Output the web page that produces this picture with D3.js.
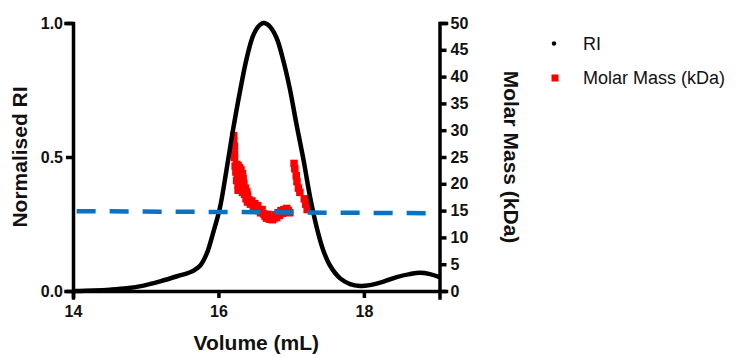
<!DOCTYPE html>
<html>
<head>
<meta charset="utf-8">
<script src="https://cdn.jsdelivr.net/npm/d3@7"></script>
<style>
  html, body { margin: 0; padding: 0; background: #fff; }
  svg { display: block; font-family: "Liberation Sans", Arial, sans-serif; }
</style>
</head>
<body>
<svg id="chart" width="743" height="358"></svg>
<script>
// ---- Data ----
const riVolume = [14.0, 14.28, 14.51, 14.74, 14.97, 15.2, 15.43, 15.65, 15.75, 15.84, 15.93, 16.02, 16.11, 16.2, 16.3, 16.39, 16.48, 16.57, 16.63, 16.71, 16.8, 16.89, 16.98, 17.07, 17.17, 17.26, 17.35, 17.44, 17.53, 17.67, 17.81, 17.95, 18.08, 18.27, 18.45, 18.63, 18.77, 18.91, 19.04];
const riValue  = [0.0, 0.002, 0.005, 0.01, 0.02, 0.036, 0.055, 0.075, 0.095, 0.14, 0.22, 0.31, 0.45, 0.6, 0.75, 0.87, 0.955, 0.993, 1.0, 0.986, 0.944, 0.862, 0.757, 0.627, 0.489, 0.351, 0.239, 0.153, 0.097, 0.048, 0.026, 0.019, 0.022, 0.035, 0.052, 0.063, 0.068, 0.063, 0.052];

const mmVolume = [16.21, 16.21, 16.22, 16.22, 16.22,
  16.23, 16.25, 16.27, 16.29, 16.24, 16.26, 16.28, 16.30, 16.25, 16.27, 16.29, 16.31, 16.27, 16.30, 16.33, 16.36,
  16.31, 16.33, 16.34, 16.35, 16.37, 16.39, 16.40,
  16.38, 16.40, 16.42, 16.44, 16.46, 16.48, 16.50, 16.52, 16.54, 16.56, 16.58, 16.60, 16.62,
  16.64, 16.66, 16.68, 16.70, 16.72, 16.74, 16.76, 16.78, 16.80, 16.82, 16.84, 16.86, 16.88, 16.90, 16.92, 16.94, 16.96, 16.98,
  17.04, 17.05, 17.07, 17.08, 17.10, 17.12, 17.18, 17.20, 17.22];
const mmValue  = [29.0, 28.0, 27.0, 25.6, 24.9,
  23.3, 23.6, 23.4, 23.0, 22.2, 21.6, 22.0, 21.8, 20.6, 19.8, 20.4, 20.8, 18.8, 19.2, 18.4, 18.0,
  22.6, 21.9, 21.0, 20.1, 19.2, 18.5, 17.9,
  17.2, 16.6, 17.0, 16.2, 16.8, 15.8, 16.3, 15.4, 15.9, 15.0, 14.6, 15.2, 14.4,
  14.0, 13.6, 14.3, 13.4, 13.8, 13.3, 13.5, 14.2, 13.7, 14.6, 14.1, 15.0, 14.5, 15.2, 14.8, 15.4, 15.0, 14.6,
  23.8, 22.8, 21.5, 20.4, 19.2, 18.4, 17.2, 16.2, 15.2];

const refVolume = [14.05, 19.0];
const refMass   = [14.9, 14.5];

const xTicks  = [14, 16, 18];
const yTicks  = [0, 0.5, 1.0];
const y2Ticks = [0, 5, 10, 15, 20, 25, 30, 35, 40, 45, 50];

const legendLabels = ["RI", "Molar Mass (kDa)"];

// ---- Layout ----
const svg = d3.select("#chart");
const pL = 73, pR = 439.5, pT = 23, pB = 291;

const x  = d3.scaleLinear().domain([14, 19.04]).range([pL, pR]);
const y  = d3.scaleLinear().domain([0, 1]).range([pB, pT]);
const y2 = d3.scaleLinear().domain([0, 50]).range([pB, pT]);

// Molar mass squares (underneath)
const sq = 7.5;
svg.append("g").selectAll("rect")
  .data(mmVolume.map((v, i) => [v, mmValue[i]]))
  .join("rect")
  .attr("x", d => x(d[0]) - sq / 2)
  .attr("y", d => y2(d[1]) - sq / 2)
  .attr("width", sq).attr("height", sq)
  .attr("fill", "#ff0000");

// RI curve
const riLine = d3.line().x(d => x(d[0])).y(d => y(d[1])).curve(d3.curveCatmullRom.alpha(0.5));
svg.append("path")
  .datum(riVolume.map((v, i) => [v, riValue[i]]))
  .attr("d", riLine)
  .attr("fill", "none")
  .attr("stroke", "#000")
  .attr("stroke-width", 4.5)
  .attr("stroke-linejoin", "round");

// Reference dashed line
svg.append("path")
  .datum(refVolume.map((v, i) => [v, refMass[i]]))
  .attr("d", d3.line().x(d => x(d[0])).y(d => y2(d[1])))
  .attr("fill", "none")
  .attr("stroke", "#0a72c2")
  .attr("stroke-width", 4.5)
  .attr("stroke-dasharray", "19 14");

// Axes
function styleAxis(g) {
  g.select(".domain").attr("stroke", "#000").attr("stroke-width", 3.5).attr("stroke-linecap", "square");
  g.selectAll(".tick line").attr("stroke", "#000").attr("stroke-width", 3.5);
  g.selectAll(".tick text").attr("fill", "#111").style("font-size", "16px").style("font-weight", "bold")
    .style("font-family", "'Liberation Sans', Arial, sans-serif");
}

svg.append("g").attr("transform", `translate(0,${pB})`)
  .call(d3.axisBottom(x).tickValues(xTicks).tickFormat(d3.format("d")).tickSizeOuter(0).tickSize(7).tickPadding(8))
  .call(styleAxis);

svg.append("g").attr("transform", `translate(${pL},0)`)
  .call(d3.axisLeft(y).tickValues(yTicks).tickFormat(d3.format(".1f")).tickSizeOuter(0).tickSize(7).tickPadding(3))
  .call(styleAxis);

svg.append("g").attr("transform", `translate(${pR},0)`)
  .call(d3.axisRight(y2).tickValues(y2Ticks).tickFormat(d3.format("d")).tickSizeOuter(0).tickSize(7).tickPadding(4))
  .call(styleAxis);

// Axis titles
svg.append("text")
  .attr("x", (pL + pR) / 2).attr("y", 350)
  .attr("text-anchor", "middle")
  .style("font-size", "21px").style("font-weight", "bold").attr("fill", "#111")
  .text("Volume (mL)");

svg.append("text")
  .attr("transform", `translate(27,${(pT + pB) / 2}) rotate(-90)`)
  .attr("text-anchor", "middle")
  .style("font-size", "21px").style("font-weight", "bold").attr("fill", "#111")
  .text("Normalised RI");

svg.append("text")
  .attr("transform", `translate(504,${(pT + pB) / 2}) rotate(90)`)
  .attr("text-anchor", "middle")
  .style("font-size", "21px").style("font-weight", "bold").attr("fill", "#111")
  .text("Molar Mass (kDa)");

// Legend
const leg = svg.append("g");
leg.append("circle").attr("cx", 554).attr("cy", 43.5).attr("r", 2.2).attr("fill", "#000");
leg.append("rect").attr("x", 551.5).attr("y", 74.5).attr("width", 7).attr("height", 7).attr("fill", "#ff0000");
leg.selectAll("text.leg")
  .data(legendLabels)
  .join("text")
  .attr("class", "leg")
  .attr("x", 583)
  .attr("y", (d, i) => i === 0 ? 50 : 84)
  .style("font-size", "18px")
  .attr("fill", "#111")
  .text(d => d);
</script>
</body>
</html>
